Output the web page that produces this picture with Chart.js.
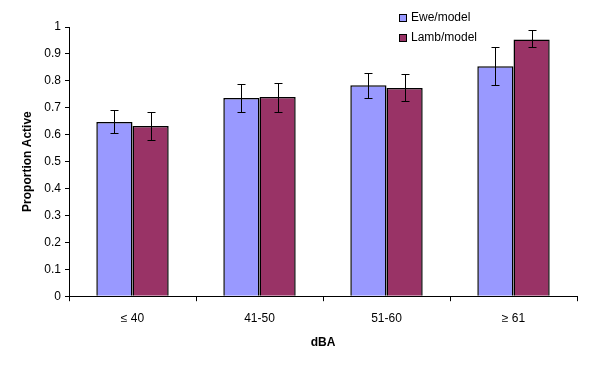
<!DOCTYPE html>
<html>
<head>
<meta charset="utf-8">
<script src="https://cdn.jsdelivr.net/npm/chart.js@4"></script>
<style>
  html, body { margin: 0; padding: 0; background: #fff; }
  #wrap { width: 599px; height: 366px; }
</style>
</head>
<body>
<div id="wrap"><canvas id="myChart" width="599" height="366"></canvas></div>
<script>
// data
const categories = ['\u2264 40', '41-50', '51-60', '\u2265 61'];
const seriesNames = ['Ewe/model', 'Lamb/model'];
const eweValues = [0.647, 0.736, 0.784, 0.854];
const eweLow = [0.606, 0.684, 0.736, 0.784];
const eweHigh = [0.691, 0.789, 0.829, 0.925];
const lambValues = [0.632, 0.740, 0.773, 0.954];
const lambLow = [0.580, 0.684, 0.725, 0.925];
const lambHigh = [0.684, 0.793, 0.825, 0.988];
const yTicks = [0, 0.1, 0.2, 0.3, 0.4, 0.5, 0.6, 0.7, 0.8, 0.9, 1];

const FONT = 'Liberation Sans, Arial, sans-serif';

// error bars drawn on the y scale
const errorBars = {
  id: 'errorBars',
  afterDatasetsDraw(chart) {
    const ctx = chart.ctx;
    const y = chart.scales.y;
    ctx.save();
    ctx.strokeStyle = '#000';
    ctx.lineWidth = 1;
    chart.data.datasets.forEach((ds, i) => {
      const meta = chart.getDatasetMeta(i);
      meta.data.forEach((bar, j) => {
        const x = Math.round(bar.x) + 0.5;
        const yl = Math.round(y.getPixelForValue(ds.errLow[j])) + 0.5;
        const yh = Math.round(y.getPixelForValue(ds.errHigh[j])) + 0.5;
        ctx.beginPath();
        ctx.moveTo(x, yl); ctx.lineTo(x, yh);
        ctx.moveTo(x - 4, yl); ctx.lineTo(x + 4, yl);
        ctx.moveTo(x - 4, yh); ctx.lineTo(x + 4, yh);
        ctx.stroke();
      });
    });
    ctx.restore();
  }
};

// small legend in the top right corner
const cornerLegend = {
  id: 'cornerLegend',
  afterDraw(chart) {
    const ctx = chart.ctx;
    ctx.save();
    ctx.font = '12px ' + FONT;
    ctx.textBaseline = 'middle';
    chart.data.datasets.forEach((ds, i) => {
      const cy = 18 + i * 20;
      ctx.fillStyle = ds.backgroundColor;
      ctx.fillRect(399.5, cy - 3.5, 7, 7);
      ctx.strokeStyle = '#000';
      ctx.lineWidth = 1;
      ctx.strokeRect(399.5, cy - 3.5, 7, 7);
      ctx.fillStyle = '#000';
      ctx.fillText(ds.label, 411, cy);
    });
    ctx.restore();
  }
};

new Chart(document.getElementById('myChart'), {
  type: 'bar',
  data: {
    labels: categories,
    datasets: [
      { label: seriesNames[0], data: eweValues, errLow: eweLow, errHigh: eweHigh,
        backgroundColor: '#9999FF', borderColor: '#000', borderWidth: 1.5 },
      { label: seriesNames[1], data: lambValues, errLow: lambLow, errHigh: lambHigh,
        backgroundColor: '#993366', borderColor: '#000', borderWidth: 1.5 }
    ]
  },
  options: {
    responsive: false,
    animation: false,
    layout: { padding: { left: 16, right: 22, top: 27, bottom: 12 } },
    datasets: { bar: { categoryPercentage: 0.57, barPercentage: 1.0 } },
    scales: {
      x: {
        grid: { offset: true, drawOnChartArea: false, drawTicks: true, tickLength: 5, color: '#000' },
        border: { color: '#000', width: 1 },
        ticks: { color: '#000', font: { family: FONT, size: 12 }, padding: 10 },
        title: { display: true, text: 'dBA', color: '#000', font: { family: FONT, size: 12, weight: 'bold' }, padding: { top: 0 } }
      },
      y: {
        min: 0, max: 1,
        afterBuildTicks(scale) { scale.ticks = yTicks.map(v => ({ value: v })); },
        afterFit(scale) { scale.width = 53; },
        grid: { drawOnChartArea: false, drawTicks: true, tickLength: 4, color: '#000' },
        border: { color: '#000', width: 1 },
        ticks: { color: '#000', font: { family: FONT, size: 12 }, padding: 4, callback: v => String(v) },
        title: { display: true, text: 'Proportion Active', color: '#000', font: { family: FONT, size: 12, weight: 'bold' }, padding: { bottom: 4 } }
      }
    },
    plugins: {
      legend: { display: false },
      tooltip: { enabled: false }
    }
  },
  plugins: [errorBars, cornerLegend]
});
</script>
</body>
</html>
